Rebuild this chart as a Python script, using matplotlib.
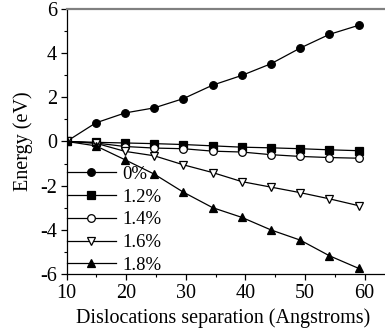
import matplotlib
matplotlib.use("Agg")
import matplotlib.pyplot as plt

plt.rcParams["font.family"] = ["Liberation Serif", "DejaVu Serif"]

# Dislocation separation (Angstroms)
sep = [10, 14.9, 19.8, 24.7, 29.6, 34.5, 39.4, 44.3, 49.2, 54.1, 59.0]

# Energy (eV) for each strain level
e_0 = [0, 0.84, 1.29, 1.52, 1.94, 2.55, 2.99, 3.52, 4.23, 4.85, 5.26]
e_12 = [0, -0.04, -0.07, -0.10, -0.14, -0.20, -0.26, -0.29, -0.33, -0.38, -0.42]
e_14 = [0, -0.07, -0.23, -0.30, -0.33, -0.44, -0.48, -0.60, -0.68, -0.73, -0.76]
e_16 = [0, -0.08, -0.45, -0.65, -1.06, -1.41, -1.82, -2.07, -2.32, -2.60, -2.91]
e_18 = [0, -0.20, -0.83, -1.48, -2.30, -3.00, -3.44, -4.01, -4.47, -5.18, -5.75]

labels = ["0%", "1.2%", "1.4%", "1.6%", "1.8%"]

fig = plt.figure(figsize=(3.85, 3.32), dpi=100)
ax = fig.add_axes([0.173, 0.175, 0.836, 0.798])

styles = [
    (e_0, "o", "black"),
    (e_12, "s", "black"),
    (e_14, "o", "white"),
    (e_16, "v", "white"),
    (e_18, "^", "black"),
]
for (vals, mk, fc), lab in zip(styles, labels):
    ax.plot(sep, vals, color="black", lw=0.9, marker=mk, ms=5.5,
            mfc=fc, mec="black", mew=0.9, label=lab)

ax.set_xlim(10, 64)
ax.set_ylim(-6, 6)
ax.set_xticks([10, 20, 30, 40, 50, 60])
ax.set_xticks([15, 25, 35, 45, 55], minor=True)
ax.set_yticks([-6, -4, -2, 0, 2, 4, 6])
ax.set_yticks([-5, -3, -1, 1, 3, 5], minor=True)
ax.set_yticklabels(["-6", "-4", "-2", "0", "2", "4", "6"])
ax.tick_params(which="major", direction="out", length=4, width=0.9,
               labelsize=14.5, pad=3)
ax.tick_params(which="minor", direction="out", length=2, width=0.8)

ax.spines["right"].set_visible(False)
ax.spines["top"].set_color("#808080")
ax.spines["top"].set_linewidth(1.6)
for s in ["left", "bottom"]:
    ax.spines[s].set_linewidth(0.9)

ax.set_xlabel("Dislocations separation (Angstroms)", fontsize=14.5,
              labelpad=4, x=0.485)
ax.set_ylabel("Energy (eV)", fontsize=14.5, labelpad=5)

ax.legend(loc="lower left", bbox_to_anchor=(0.0, 0.0), frameon=False,
          fontsize=13.5, handlelength=2.65, handletextpad=0.3,
          labelspacing=0.3, borderaxespad=0, borderpad=0, markerscale=1.0)

fig.savefig("out.png", dpi=100)
